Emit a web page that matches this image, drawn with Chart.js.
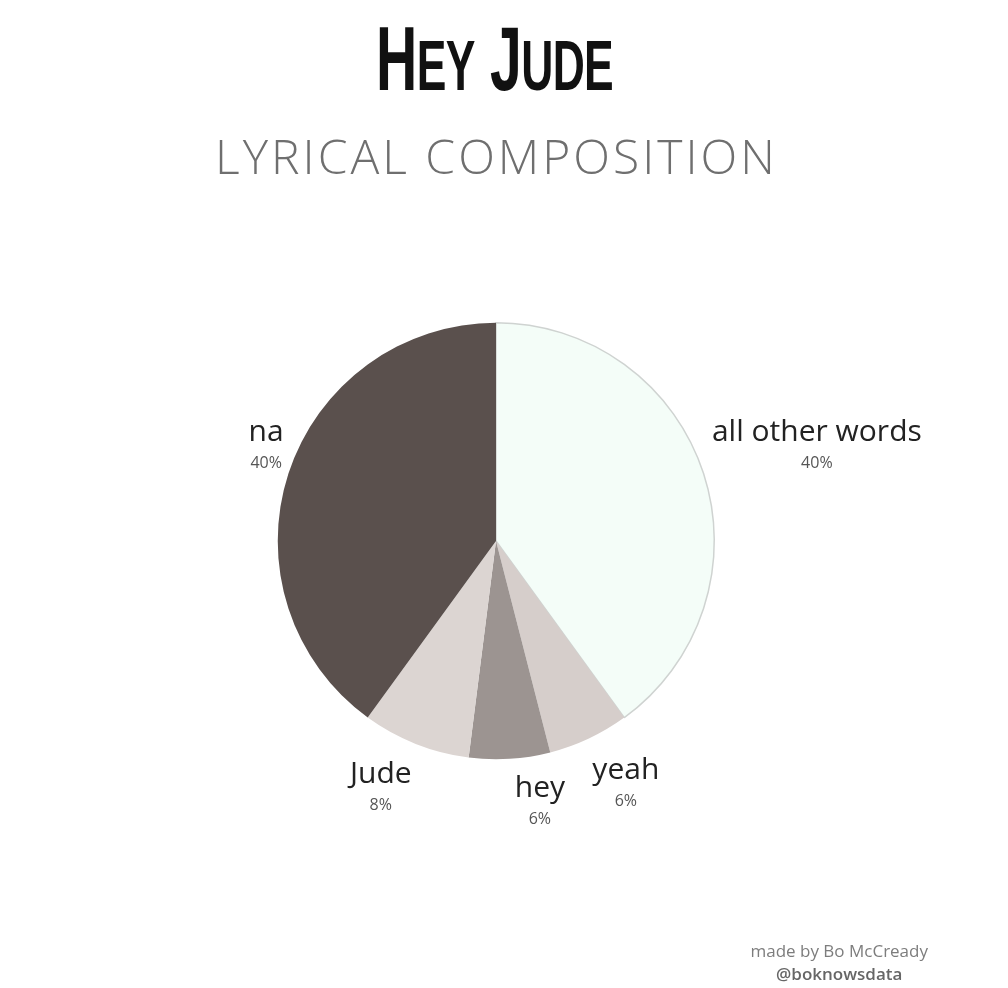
<!DOCTYPE html>
<html>
<head>
<meta charset="utf-8">
<script src="https://cdn.jsdelivr.net/npm/chart.js@4"></script>
<style>
  html, body { margin: 0; padding: 0; background: #fff; }
  #wrap { position: relative; width: 1008px; height: 988px; overflow: hidden; }
  #pie { position: absolute; left: 0; top: 0; }
  .title {
    position: absolute; left: -9px; width: 1008px; top: 14px; text-align: center;
    font-family: "Liberation Sans Narrow", "Liberation Sans", sans-serif; font-weight: bold;
    color: #111; font-size: 90px; line-height: 90px; letter-spacing: -1px;
  }
  .title span.inner { display: inline-block; transform: scaleX(0.635); }
  .title small { font-size: 70px; }
  .subtitle {
    position: absolute; left: -9px; width: 1008px; top: 123px; text-align: center;
    font-family: "Open Sans", sans-serif; font-weight: 300; color: #6f6f6f;
    font-size: 48px; letter-spacing: 3px; padding-left: 3px; box-sizing: border-box;
  }
  .credit {
    position: absolute; right: 80px; top: 939px; text-align: center;
    font-family: "Open Sans", sans-serif; color: #7d7d7d; font-size: 17px; line-height: 23px;
  }
  .credit b { color: #666; font-weight: 600; }
</style>
</head>
<body>
<div id="wrap">
  <canvas id="pie" width="1008" height="988"></canvas>
  <div class="title"><span class="inner">H<small>EY</small> J<small>UDE</small></span></div>
  <div class="subtitle">LYRICAL COMPOSITION</div>
  <div class="credit">made by Bo McCready<br><b>@boknowsdata</b></div>
</div>
<script>
const words = ['all other words', 'yeah', 'hey', 'Jude', 'na'];
const shares = [40, 6, 6, 8, 40];
const sliceColors = ['#f4fdf8', '#d6cecb', '#9c9491', '#dcd5d2', '#5a504d'];

// label nudges (px) from the point just outside each slice's middle
const labelNudge = [[80, -15], [22, 15], [28, 10], [-22, 13], [11, -15]];

const outsideLabels = {
    id: 'outsideLabels',
    afterDatasetsDraw(chart) {
        const ctx = chart.ctx;
        const meta = chart.getDatasetMeta(0);
        meta.data.forEach((arc, i) => {
            const mid = (arc.startAngle + arc.endAngle) / 2;
            const r = arc.outerRadius + 35;
            const x = arc.x + Math.cos(mid) * r + labelNudge[i][0];
            const y = arc.y + Math.sin(mid) * r + labelNudge[i][1];
            ctx.save();
            ctx.textAlign = 'center';
            ctx.textBaseline = 'middle';
            ctx.fillStyle = '#222';
            ctx.font = '30px "Open Sans", sans-serif';
            ctx.fillText(words[i], x, y - 15);
            ctx.fillStyle = '#555';
            ctx.font = '16px "Open Sans", sans-serif';
            ctx.fillText(shares[i] + '%', x, y + 16);
            ctx.restore();
        });
    }
};

new Chart(document.getElementById('pie'), {
    type: 'pie',
    data: {
        labels: words,
        datasets: [{
            data: shares,
            backgroundColor: sliceColors,
            borderColor: ['#cfd3d1', '#d6cecb', '#9c9491', '#dcd5d2', '#5a504d'],
            borderWidth: [1.5, 0, 0, 0, 0]
        }]
    },
    options: {
        responsive: false,
        animation: false,
        layout: { padding: { left: 277, right: 293, top: 322, bottom: 228 } },
        plugins: {
            legend: { display: false },
            tooltip: { enabled: false }
        }
    },
    plugins: [outsideLabels]
});
</script>
</body>
</html>
